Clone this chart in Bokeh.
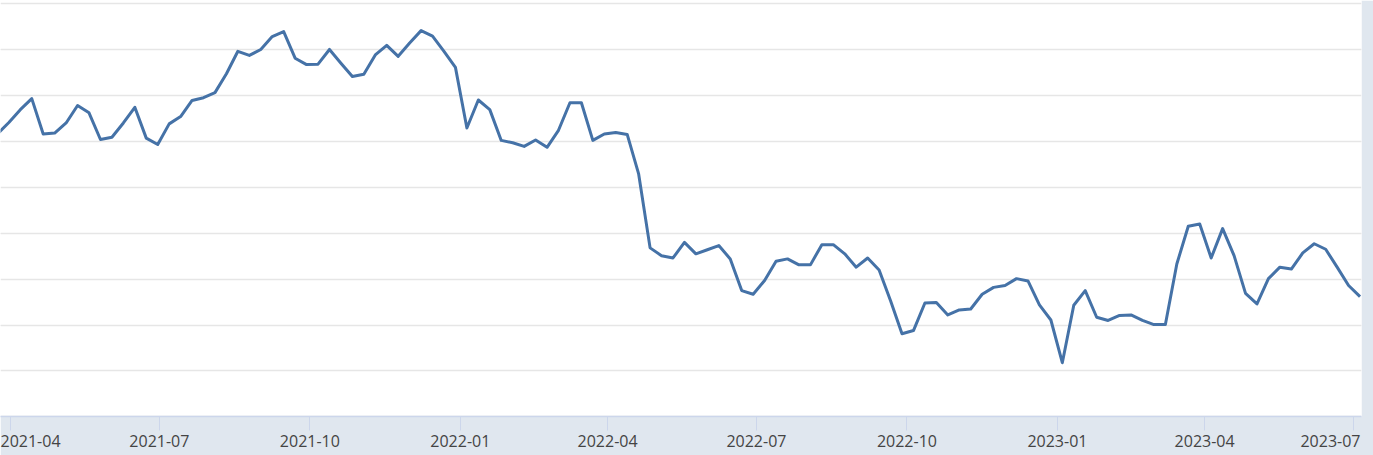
import pandas as pd
from bokeh.plotting import figure
from bokeh.models import Range1d, FixedTicker, Grid
from bokeh.embed import file_html
from bokeh.resources import INLINE

# ---- data (weekly series) ----
start_date = "2021-03-24"
values = [
    61.6, 64.1, 66.9, 69.3, 61.6, 61.8, 64.0, 67.8, 66.2, 60.4,
    60.9, 64.0, 67.4, 60.7, 59.3, 63.8, 65.4, 68.9, 69.5, 70.6,
    74.7, 79.6, 78.7, 80.0, 82.8, 83.9, 78.1, 76.7, 76.8, 80.0,
    77.0, 74.1, 74.6, 78.8, 80.9, 78.5, 81.4, 84.1, 82.9, 79.6,
    76.1, 62.9, 69.0, 66.9, 60.2, 59.7, 58.9, 60.3, 58.7, 62.4,
    68.4, 68.4, 60.2, 61.6, 61.9, 61.5, 52.9, 36.8, 35.1, 34.6,
    38.0, 35.5, 36.4, 37.3, 34.4, 27.5, 26.7, 29.7, 33.9, 34.4,
    33.1, 33.1, 37.5, 37.5, 35.5, 32.6, 34.6, 32.0, 25.3, 18.1,
    18.8, 24.8, 24.9, 22.2, 23.3, 23.5, 26.7, 28.2, 28.6, 30.1,
    29.6, 24.4, 21.1, 11.8, 24.3, 27.5, 21.7, 21.0, 22.1, 22.2,
    21.0, 20.1, 20.1, 33.3, 41.5, 42.0, 34.6, 41.0, 35.1, 26.9,
    24.6, 30.1, 32.6, 32.2, 35.7, 37.7, 36.5, 32.6, 28.6, 26.2,
]
tick_labels = ["2021-04", "2021-07", "2021-10", "2022-01", "2022-04",
               "2022-07", "2022-10", "2023-01", "2023-04", "2023-07"]
grid_values = [0, 10, 20, 30, 40, 50, 60, 70, 80, 90]

dates = pd.date_range(start_date, periods=len(values), freq="7D")
tick_ms = [int(pd.Timestamp(t + "-01").value // 10**6) for t in tick_labels]

# ---- layout ----
ref = pd.Timestamp("2021-04-01")
px_per_day = 1.6358
day_ms = 86400000
x_start = ref + pd.Timedelta(days=(0 - 10) / px_per_day)
x_end = ref + pd.Timedelta(days=(1361 - 10) / px_per_day)

# label anchor positions: same as tick marks, except the last label which is
# pulled 23px to the left so that it stays inside the chart
label_pos = list(tick_ms)
label_pos[-1] = int(tick_ms[-1] - 23 / px_per_day * day_ms)

p = figure(
    width=1373, height=455,
    x_axis_type="datetime", y_axis_location=None,
    x_range=Range1d(x_start, x_end),
    y_range=Range1d(0.087, 90.66),
    output_backend="svg", toolbar_location=None,
    min_border_left=0, min_border_top=0, min_border_right=12, min_border_bottom=39,
    background_fill_color="white", border_fill_color="#e0e7ef",
    outline_line_color=None,
)
p.xgrid.visible = False
p.add_layout(Grid(dimension=1, ticker=FixedTicker(ticks=grid_values),
                  grid_line_color="#e6e6e6", grid_line_width=1.5))

ax = p.xaxis[0]
ax.ticker = FixedTicker(ticks=label_pos, minor_ticks=tick_ms)
ax.major_label_overrides = {t: lab for t, lab in zip(label_pos, tick_labels)}
ax.axis_line_color = "#ccd6eb"
ax.axis_line_width = 1.5
ax.major_tick_line_color = None
ax.major_tick_out = 14
ax.major_tick_in = 0
ax.minor_tick_line_color = "#ccd6eb"
ax.minor_tick_line_width = 1
ax.minor_tick_out = 14
ax.minor_tick_in = 0
ax.major_label_standoff = 4
ax.major_label_text_font = "Open Sans"
ax.major_label_text_font_size = "16px"
ax.major_label_text_color = "#444444"

p.line(dates, values, line_color="#4572a7", line_width=3, line_join="round")

open("out.html", "w").write(file_html(p, INLINE))
